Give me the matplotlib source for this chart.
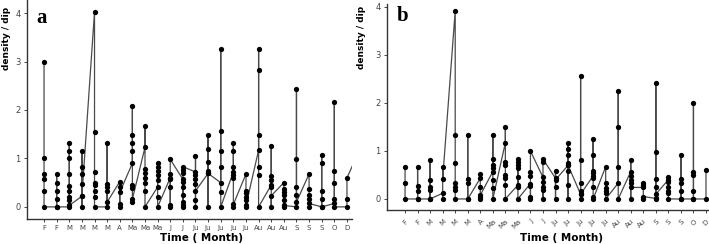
import matplotlib
matplotlib.use('Agg')
import matplotlib.pyplot as plt

months = ['F', 'F', 'M', 'M', 'M', 'M', 'A', 'Ma', 'Ma', 'Ma', 'J', 'J',
          'Ju', 'Ju', 'Ju', 'Ju', 'Ju', 'Au', 'Au', 'Au', 'S', 'S', 'S', 'O', 'D']

# samples per sampling date, in the order they are joined by the line
# (panel a has one more date after D, cut off by the axis edge)
density_a = [
    [3.0, 1.0, 0.67, 0.58, 0.33, 0.0],
    [0.0, 0.67, 0.5, 0.33, 0.17, 0.0],
    [0.0, 1.32, 1.16, 1.0, 0.67, 0.44, 0.33, 0.2, 0.15, 0.03],
    [0.22, 1.16, 0.82, 0.67, 0.48, 0.0, 0.22],
    [4.03, 1.55, 0.72, 0.5, 0.45, 0.33, 0.2, 0.0],
    [0.0, 1.32, 0.48, 0.41, 0.33, 0.1],
    [0.52, 0.41, 0.05, 0.0, 0.3],
    [0.9, 1.16, 1.32, 1.48, 2.08, 0.45, 0.4, 0.1, 0.16],
    [1.23, 1.66, 0.78, 0.69, 0.6, 0.5, 0.33, 0.0],
    [0.41, 0.91, 0.83, 0.74, 0.66, 0.55, 0.21, 0.0],
    [0.6, 0.0, 0.03, 0.41, 0.57, 0.68, 0.98],
    [0.57, 0.0, 0.03, 0.1, 0.24, 0.41, 0.52, 0.69, 0.77, 0.83],
    [0.72, 1.06, 0.66, 0.57, 0.48, 0.0, 0.15, 0.33],
    [0.69, 1.48, 1.19, 0.93, 0.74, 0.0, 0.69],
    [0.5, 3.26, 1.57, 1.16, 0.83, 0.31, 0.0],
    [0.72, 1.32, 1.16, 0.83, 0.66, 0.59, 0.0, 0.05],
    [0.68, 0.33, 0.28, 0.21, 0.15, 0.0, 0.03],
    [1.17, 3.26, 2.83, 1.48, 0.83, 0.66, 0.0],
    [0.45, 1.26, 0.64, 0.55, 0.41, 0.0, 0.23],
    [0.5, 0.36, 0.31, 0.24, 0.14, 0.0, 0.03],
    [0.0, 2.43, 0.98, 0.41, 0.24, 0.1],
    [0.68, 0.37, 0.24, 0.17, 0.0, 0.07],
    [0.0, 1.07, 0.91, 0.32, 0.16, 0.0],
    [0.07, 2.17, 0.74, 0.5, 0.16, 0.0],
    [0.0, 0.16, 0.6],
    [1.17],
]

density_b = [
    [0.67, 0.33, 0.0],
    [0.0, 0.67, 0.26, 0.17, 0.0],
    [0.0, 0.82, 0.39, 0.24, 0.19, 0.0],
    [0.12, 0.0, 0.67, 0.42],
    [3.92, 1.33, 0.75, 0.33, 0.24, 0.19, 0.0],
    [0.0, 1.34, 0.42, 0.33, 0.0],
    [0.43, 0.52, 0.24, 0.05, 0.0, 0.08],
    [0.57, 1.34, 0.83, 0.71, 0.64, 0.4, 0.22, 0.0],
    [1.17, 1.5, 0.78, 0.71, 0.5, 0.43, 0.29, 0.0],
    [0.29, 0.83, 0.78, 0.71, 0.64, 0.45, 0.24, 0.0],
    [0.32, 0.0, 0.05, 0.28, 0.48, 0.57, 1.0],
    [0.45, 0.0, 0.19, 0.24, 0.36, 0.78, 0.83],
    [0.43, 0.0, 0.24, 0.58, 0.4],
    [0.7, 1.17, 1.03, 0.91, 0.75, 0.59, 0.29, 0.0, 0.7],
    [0.1, 2.57, 0.82, 0.33, 0.17, 0.0, 0.1],
    [0.48, 1.24, 0.91, 0.59, 0.54, 0.43, 0.24, 0.05, 0.0],
    [0.67, 0.33, 0.22, 0.17, 0.12, 0.0],
    [0.33, 2.25, 1.49, 0.67, 0.0],
    [0.57, 0.82, 0.48, 0.4, 0.33, 0.0, 0.24],
    [0.24, 0.33, 0.29, 0.0, 0.05],
    [0.01, 2.41, 0.98, 0.42, 0.24, 0.0, 0.1],
    [0.4, 0.45, 0.36, 0.24, 0.17, 0.12, 0.0],
    [0.0, 0.91, 0.42, 0.33, 0.17, 0.0],
    [0.0, 1.99, 0.57, 0.5, 0.17, 0.0],
    [0.0, 0.6],
]


def flatten(groups):
    xs, ys = [], []
    for i, vals in enumerate(groups):
        xs += [i] * len(vals)
        ys += vals
    return xs, ys


fig = plt.figure(figsize=(7.09, 2.44), dpi=100)
ax_a = fig.add_axes([27 / 709, 25 / 244, 325 / 709, 219 / 244])
ax_b = fig.add_axes([387 / 709, 34 / 244, 322 / 709, 206 / 244])

for ax, groups, xlim, ylim in [(ax_a, density_a, (-1.35, 24.4), (-0.25, 4.27)),
                               (ax_b, density_b, (-1.44, 24.24), (-0.23, 4.06))]:
    x, y = flatten(groups)
    ax.plot(x, y, color='#4a4a4a', lw=0.9, marker='o', ms=3.8,
            mfc='black', mec='black', mew=0)
    ax.set_xlim(*xlim)
    ax.set_ylim(*ylim)
    ax.set_yticks([0, 1, 2, 3, 4])
    ax.set_xticks(range(len(months)))
    for s in ['top', 'right']:
        ax.spines[s].set_visible(False)
    for s in ['left', 'bottom']:
        ax.spines[s].set_color('#333333')
        ax.spines[s].set_linewidth(1.0)
    ax.tick_params(axis='both', labelsize=6, colors='#444444', length=2.5,
                   width=0.7, pad=2)
    ax.tick_params(axis='x', labelsize=5)

ax_a.set_xticklabels(months)
ax_a.tick_params(axis='x', pad=1.5)
ax_b.set_xticklabels(months, rotation=45, ha='right', rotation_mode='anchor')
ax_b.tick_params(axis='x', pad=3.5)

fig.text(7 / 709, 1 - 38 / 244, 'density / dip', rotation=90, fontsize=6.5,
         fontweight='bold', ha='center', va='center')
fig.text(362 / 709, 1 - 37 / 244, 'density / dip', rotation=90, fontsize=6.5,
         fontweight='bold', ha='center', va='center')
fig.text(201 / 709, 1 - 238 / 244, 'Time ( Month)', fontsize=7.5,
         fontweight='bold', ha='center', va='center')
fig.text(562 / 709, 1 - 238 / 244, 'Time ( Month)', fontsize=7.5,
         fontweight='bold', ha='center', va='center')
fig.text(42 / 709, 1 - 18 / 244, 'a', fontsize=15, fontweight='bold',
         family='Liberation Serif', ha='center', va='center')
fig.text(403 / 709, 1 - 16 / 244, 'b', fontsize=15, fontweight='bold',
         family='Liberation Serif', ha='center', va='center')

fig.savefig('out.png', dpi=100)
